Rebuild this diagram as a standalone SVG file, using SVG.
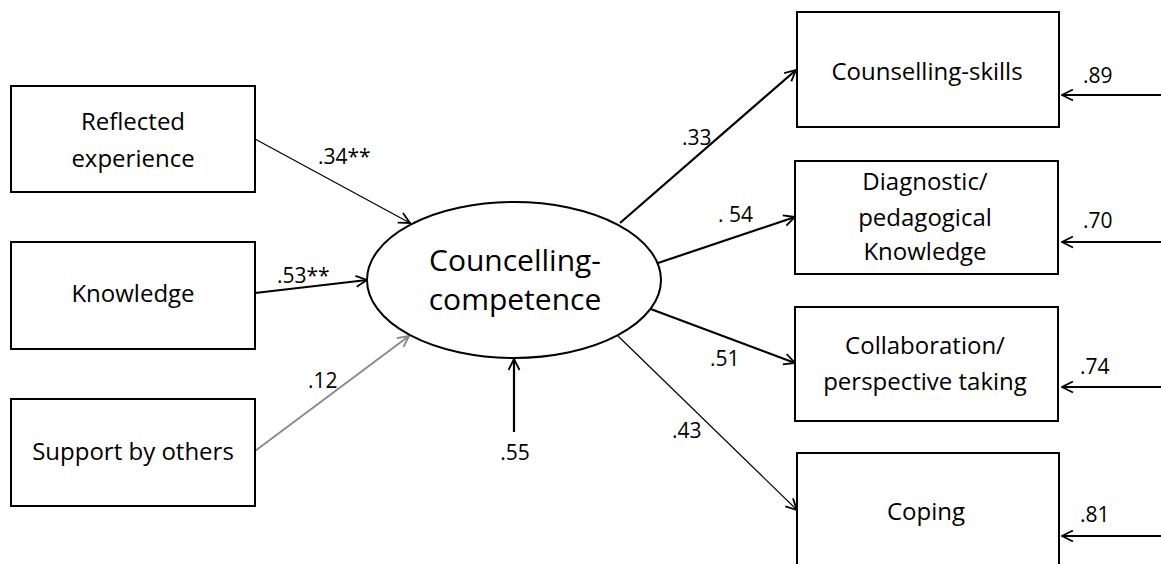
<svg xmlns="http://www.w3.org/2000/svg" width="1161" height="564" viewBox="0 0 1161 564">
<style>
.box{fill:#fff;stroke:#000;stroke-width:2}
.t{font-family:"Open Sans","Liberation Sans",sans-serif;font-size:24px;fill:#000;text-anchor:middle}
.big{font-size:30px}
.lbl{font-family:"Open Sans","Liberation Sans",sans-serif;font-size:21px;fill:#000}
.thin{stroke:#000;stroke-width:1.2;fill:none;marker-end:url(#ah)}
.thick{stroke:#000;stroke-width:2.2;fill:none;marker-end:url(#ah)}
.gray{stroke:#888;stroke-width:1.8;fill:none;marker-end:url(#ahg)}
</style>
<defs>
<marker id="ah" viewBox="0 0 13 13" refX="12" refY="6.5" markerWidth="13" markerHeight="13" markerUnits="userSpaceOnUse" orient="auto">
<path d="M1,1 L12,6.5 L1,12" fill="none" stroke="#000" stroke-width="1.8"/>
</marker>
<marker id="ahg" viewBox="0 0 13 13" refX="12" refY="6.5" markerWidth="13" markerHeight="13" markerUnits="userSpaceOnUse" orient="auto">
<path d="M1,1 L12,6.5 L1,12" fill="none" stroke="#888" stroke-width="1.8"/>
</marker>
</defs>
<rect width="1161" height="564" fill="#fff"/>

<g id="connectors">
<line class="thin" x1="255" y1="139" x2="410" y2="223"/>
<line class="thick" x1="255" y1="293" x2="367" y2="280"/>
<line class="gray" x1="255" y1="451" x2="409" y2="336"/>
<line class="thick" x1="514" y1="432" x2="514" y2="359"/>
<line class="thick" x1="620" y1="223" x2="796" y2="70"/>
<line class="thick" x1="658" y1="263" x2="795" y2="217"/>
<line class="thick" x1="648" y1="308" x2="795" y2="363"/>
<line class="thin" x1="618" y1="336" x2="797" y2="510"/>
<line class="thick" x1="1161" y1="95" x2="1062" y2="95"/>
<line class="thick" x1="1161" y1="242" x2="1062" y2="242"/>
<line class="thick" x1="1161" y1="387" x2="1062" y2="387"/>
<line class="thick" x1="1161" y1="536" x2="1062" y2="536"/>
<text class="lbl" x="318" y="164">.34**</text>
<text class="lbl" x="277" y="283">.53**</text>
<text class="lbl" x="308" y="388">.12</text>
<text class="lbl" x="515" y="460" text-anchor="middle">.55</text>
<text class="lbl" x="682" y="145">.33</text>
<text class="lbl" x="718" y="222">. 54</text>
<text class="lbl" x="710" y="366">.51</text>
<text class="lbl" x="672" y="438">.43</text>
<text class="lbl" x="1083" y="83">.89</text>
<text class="lbl" x="1083" y="228">.70</text>
<text class="lbl" x="1080" y="374">.74</text>
<text class="lbl" x="1080" y="522">.81</text>
</g>

<g id="reflected-experience">
<rect class="box" x="11" y="86" width="244" height="106"/>
<text class="t" x="133" y="130">Reflected</text>
<text class="t" x="133" y="167">experience</text>
</g>
<g id="knowledge">
<rect class="box" x="11" y="242" width="244" height="107"/>
<text class="t" x="133" y="302">Knowledge</text>
</g>
<g id="support-by-others">
<rect class="box" x="11" y="399" width="244" height="107"/>
<text class="t" x="133" y="460">Support by others</text>
</g>

<g id="councelling-competence">
<ellipse cx="514" cy="280" rx="147" ry="78" fill="#fff" stroke="#000" stroke-width="2"/>
<text class="t big" x="515" y="271">Councelling-</text>
<text class="t big" x="515" y="310">competence</text>
</g>

<g id="counselling-skills">
<rect class="box" x="797" y="12" width="262" height="115"/>
<text class="t" x="927" y="80">Counselling-skills</text>
</g>
<g id="diagnostic-knowledge">
<rect class="box" x="795" y="161" width="263" height="113"/>
<text class="t" x="925" y="190">Diagnostic/</text>
<text class="t" x="925" y="226">pedagogical</text>
<text class="t" x="925" y="260">Knowledge</text>
</g>
<g id="collaboration">
<rect class="box" x="795" y="307" width="263" height="114"/>
<text class="t" x="925" y="354">Collaboration/</text>
<text class="t" x="925" y="390">perspective taking</text>
</g>
<g id="coping">
<rect class="box" x="797" y="453" width="262" height="125"/>
<text class="t" x="926" y="520">Coping</text>
</g>
</svg>
